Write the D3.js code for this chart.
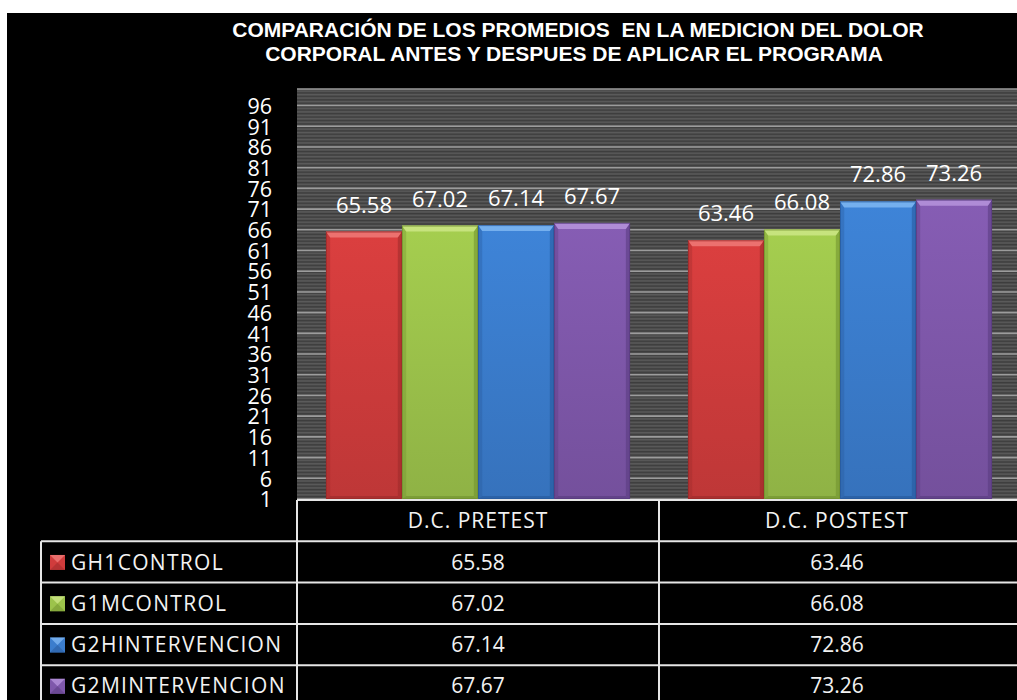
<!DOCTYPE html>
<html>
<head>
<meta charset="utf-8">
<script src="https://cdn.jsdelivr.net/npm/d3@7"></script>
<style>
  body { margin: 0; background: #ffffff; overflow: hidden; }
  svg { display: block; }
</style>
</head>
<body>
<div id="container"></div>
<script>
/**
 * DATA
 * */
const categories = ["D.C. PRETEST", "D.C. POSTEST"];
const series = ["GH1CONTROL", "G1MCONTROL", "G2HINTERVENCION", "G2MINTERVENCION"];
const pretest = [65.58, 67.02, 67.14, 67.67];
const postest = [63.46, 66.08, 72.86, 73.26];
const yTicks = [1, 6, 11, 16, 21, 26, 31, 36, 41, 46, 51, 56, 61, 66, 71, 76, 81, 86, 91, 96];
const seriesColors = ["#d03c3c", "#9cc34b", "#3b7dcd", "#7f58ab"];
const lightColors = ["#ef7a78", "#cde686", "#7fb7f2", "#b694dc"];
const darkColors = ["#9a2a2a", "#6f8f2e", "#27589a", "#573a7d"];

const rows = series.map((s, i) => ({ name: s, values: [pretest[i], postest[i]], i: i }));

/**
 * LAYOUT
 * */
const width = 1017, height = 700;
const plot = { left: 297, right: 1021, top: 89, bottom: 499 };
const tableTop = 500, rowH = 41.3, tableLeft = 41, colDiv = 659;

const svg = d3.select("#container")
  .append("svg")
  .attr("width", width)
  .attr("height", height);

svg.append("rect")
  .attr("x", 7).attr("y", 13)
  .attr("width", width).attr("height", height)
  .attr("fill", "#000");

const defs = svg.append("defs");

// striped background pattern
const pat = defs.append("pattern")
  .attr("id", "stripes")
  .attr("patternUnits", "userSpaceOnUse")
  .attr("width", 10).attr("height", 3.45);
pat.append("rect").attr("width", 10).attr("height", 3.45).attr("fill", "#3d3d3d");
pat.append("rect").attr("y", 0.6).attr("width", 10).attr("height", 1.7).attr("fill", "#5b5b5b");

// bar gradients
series.forEach((s, i) => {
  const g = defs.append("linearGradient")
    .attr("id", "grad" + i)
    .attr("x1", 0).attr("x2", 0).attr("y1", 0).attr("y2", 1);
  g.append("stop").attr("offset", "0%").attr("stop-color", d3.color(seriesColors[i]).brighter(0.15));
  g.append("stop").attr("offset", "100%").attr("stop-color", d3.color(seriesColors[i]).darker(0.25));
});

// title
const title = svg.append("text")
  .attr("text-anchor", "middle")
  .attr("fill", "#ffffff")
  .style("font-family", "'Liberation Sans', Arial, sans-serif")
  .style("font-weight", "bold")
  .style("font-size", "21px")
  .style("white-space", "pre");
title.append("tspan").attr("x", 578).attr("y", 37)
  .text("COMPARACIÓN DE LOS PROMEDIOS  EN LA MEDICION DEL DOLOR");
title.append("tspan").attr("x", 574).attr("y", 61)
  .text("CORPORAL ANTES Y DESPUES DE APLICAR EL PROGRAMA");

/**
 * SCALES
 * */
const yScale = d3.scaleLinear()
  .domain([1, 100])
  .range([plot.bottom, plot.top]);

const xScale = d3.scaleBand()
  .domain(categories)
  .range([plot.left, plot.right]);

const x1 = d3.scaleBand()
  .domain(series)
  .range([xScale.bandwidth() * 0.08, xScale.bandwidth() * 0.92]);

// plot background
svg.append("rect")
  .attr("x", plot.left).attr("y", plot.top)
  .attr("width", plot.right - plot.left).attr("height", plot.bottom - plot.top)
  .attr("fill", "url(#stripes)");

// gridlines
svg.append("g")
  .selectAll("line")
  .data(yTicks.concat([100]))
  .join("line")
  .attr("x1", plot.left).attr("x2", plot.right)
  .attr("y1", d => yScale(d)).attr("y2", d => yScale(d))
  .attr("stroke", "#9c9c9c")
  .attr("stroke-width", 1.6);

// y axis labels
const yAxis = svg.append("g")
  .attr("transform", `translate(${plot.left - 25},0)`)
  .call(d3.axisLeft(yScale).tickValues(yTicks).tickSize(0).tickPadding(0));
yAxis.select(".domain").remove();
yAxis.selectAll("text")
  .attr("fill", "#ffffff")
  .attr("dy", "0.36em")
  .style("font-family", "'Open Sans', sans-serif")
  .style("font-size", "21.5px");

/**
 * BARS
 * */
const groups = svg.append("g")
  .selectAll("g.cat")
  .data(categories)
  .join("g")
  .attr("class", "cat")
  .attr("transform", d => `translate(${xScale(d)},0)`);

const bev = 6;
groups.each(function(cat, ci) {
  const g = d3.select(this);
  rows.forEach(r => {
    const v = r.values[ci];
    const x = x1(r.name), w = x1.bandwidth();
    const y = yScale(v), b = yScale(1);
    const bar = g.append("g");
    bar.append("rect")
      .attr("x", x).attr("y", y).attr("width", w).attr("height", b - y)
      .attr("fill", `url(#grad${r.i})`);
    // side bevels
    bar.append("path")
      .attr("d", `M${x},${y} L${x + bev * 0.7},${y + bev} L${x + bev * 0.7},${b - 3} L${x},${b} Z`)
      .attr("fill", darkColors[r.i]).attr("opacity", 0.35);
    bar.append("path")
      .attr("d", `M${x + w},${y} L${x + w - bev * 0.7},${y + bev} L${x + w - bev * 0.7},${b - 3} L${x + w},${b} Z`)
      .attr("fill", darkColors[r.i]).attr("opacity", 0.55);
    // bottom bevel
    bar.append("path")
      .attr("d", `M${x},${b} L${x + bev * 0.7},${b - 3} L${x + w - bev * 0.7},${b - 3} L${x + w},${b} Z`)
      .attr("fill", darkColors[r.i]).attr("opacity", 0.6);
    // top bevel
    bar.append("path")
      .attr("d", `M${x},${y} L${x + w},${y} L${x + w - bev * 0.7},${y + bev} L${x + bev * 0.7},${y + bev} Z`)
      .attr("fill", lightColors[r.i]).attr("opacity", 0.85);
    // outline
    bar.append("rect")
      .attr("x", x + 0.5).attr("y", y + 0.5).attr("width", w - 1).attr("height", b - y - 1)
      .attr("fill", "none").attr("stroke", darkColors[r.i]).attr("stroke-width", 1).attr("opacity", 0.7);
    // value label
    g.append("text")
      .attr("x", x + w / 2)
      .attr("y", y - 19)
      .attr("text-anchor", "middle")
      .attr("fill", "#ffffff")
      .style("font-family", "'Open Sans', sans-serif")
      .style("font-size", "22px")
      .text(v.toFixed(2));
  });
});

/**
 * DATA TABLE
 * */
const table = svg.append("g");
const lineColor = "#e6e6e6";
const tableFont = "'Open Sans', sans-serif";

// horizontal lines
table.append("line")
  .attr("x1", plot.left).attr("x2", width)
  .attr("y1", tableTop).attr("y2", tableTop)
  .attr("stroke", lineColor).attr("stroke-width", 2);
d3.range(1, 5).forEach(k => {
  table.append("line")
    .attr("x1", tableLeft).attr("x2", width)
    .attr("y1", tableTop + k * rowH).attr("y2", tableTop + k * rowH)
    .attr("stroke", lineColor).attr("stroke-width", 2);
});
// vertical lines
table.append("line")
  .attr("x1", plot.left).attr("x2", plot.left)
  .attr("y1", tableTop).attr("y2", height)
  .attr("stroke", lineColor).attr("stroke-width", 2);
table.append("line")
  .attr("x1", colDiv).attr("x2", colDiv)
  .attr("y1", tableTop).attr("y2", height)
  .attr("stroke", lineColor).attr("stroke-width", 2);
table.append("line")
  .attr("x1", tableLeft).attr("x2", tableLeft)
  .attr("y1", tableTop + rowH).attr("y2", height)
  .attr("stroke", lineColor).attr("stroke-width", 2);

// header
table.selectAll("text.head")
  .data(categories)
  .join("text")
  .attr("class", "head")
  .attr("x", d => xScale(d) + xScale.bandwidth() / 2 - (d === categories[1] ? 3 : 0))
  .attr("y", tableTop + rowH / 2)
  .attr("dy", "0.36em")
  .attr("text-anchor", "middle")
  .attr("fill", "#f2f2f2")
  .style("font-family", tableFont)
  .style("font-size", "21px")
  .style("letter-spacing", "1px")
  .text(d => d);

const tr = table.selectAll("g.row")
  .data(rows)
  .join("g")
  .attr("class", "row")
  .attr("transform", (d, i) => `translate(0,${tableTop + (i + 1) * rowH})`);

// legend keys
tr.append("rect")
  .attr("x", 50).attr("y", rowH / 2 - 7)
  .attr("width", 15).attr("height", 15)
  .attr("fill", d => seriesColors[d.i]);
tr.append("path")
  .attr("d", `M50,${rowH / 2 - 7} L65,${rowH / 2 - 7} L57.5,${rowH / 2 + 0.5} Z`)
  .attr("fill", d => lightColors[d.i]).attr("opacity", 0.8);
tr.append("path")
  .attr("d", `M50,${rowH / 2 + 8} L65,${rowH / 2 + 8} L57.5,${rowH / 2 + 0.5} Z`)
  .attr("fill", d => darkColors[d.i]).attr("opacity", 0.5);

tr.append("text")
  .attr("x", 71)
  .attr("y", rowH / 2)
  .attr("dy", "0.36em")
  .attr("fill", "#f2f2f2")
  .style("font-family", tableFont)
  .style("font-size", "21px")
  .style("letter-spacing", "1.3px")
  .text(d => d.name);

tr.selectAll("text.val")
  .data(d => d.values.map((v, ci) => ({ v: v, cat: categories[ci] })))
  .join("text")
  .attr("class", "val")
  .attr("x", d => xScale(d.cat) + xScale.bandwidth() / 2 - (d.cat === categories[1] ? 3 : 0))
  .attr("y", rowH / 2)
  .attr("dy", "0.36em")
  .attr("text-anchor", "middle")
  .attr("fill", "#f2f2f2")
  .style("font-family", tableFont)
  .style("font-size", "21px")
  .text(d => d.v.toFixed(2));
</script>
</body>
</html>
